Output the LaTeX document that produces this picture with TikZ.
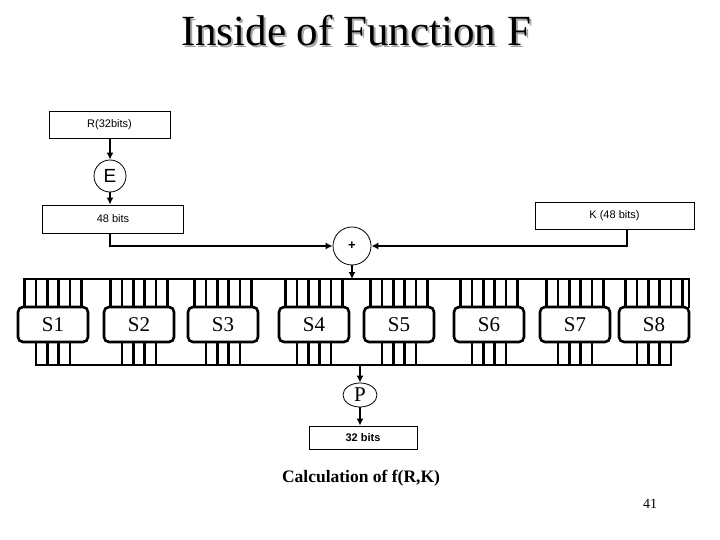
\documentclass[tikz,border=0pt]{standalone}
\usepackage{fontspec}
\setmainfont{Liberation Serif}
\newfontfamily\pix{Liberation Sans}
\usetikzlibrary{arrows.meta,shapes.geometric,calc}
\begin{document}
\begin{tikzpicture}[x=1pt,y=-1pt,
  tbox/.style={draw,line width=0.9pt,inner sep=0pt,font=\pix\fontsize{11}{13}\selectfont},
  sbox/.style={draw,line width=2.6pt,rounded corners=5pt,minimum width=70pt,minimum height=35pt,inner sep=0pt,font=\fontsize{21}{24}\selectfont},
  circ/.style={draw,circle,line width=0.8pt,inner sep=0pt},
  arr/.style={line width=2.2pt,-{Latex[length=7pt,width=7pt]}},
  thinarr/.style={line width=1.8pt,-{Latex[length=7pt,width=7pt]}},
  bus/.style={line width=2.8pt,line cap=rect}
]
\useasboundingbox (0,0) rectangle (720,540);

% title with shadow
\node[anchor=base,text=black!35,font=\fontsize{43}{48}\selectfont] (titleshadow) at (358,48) {Inside of Function F};
\node[anchor=base,font=\fontsize{43}{48}\selectfont] (title) at (356,46) {Inside of Function F};

% top part
\node[tbox,minimum width=121pt,minimum height=27pt] (R) at (109.5,124.5) {R(32bits)};
\node[circ,minimum size=32pt,font=\pix\fontsize{19}{22}\selectfont] (E) at (110,176) {E};
\node[tbox,minimum width=141pt,minimum height=28pt] (B48) at (113,219) {48 bits};
\node[tbox,minimum width=159pt,minimum height=27pt] (K) at (614.5,215.5) {K (48 bits)};
\node[circ,minimum size=38pt,font=\pix\bfseries\fontsize{13}{15}\selectfont] (plus) at (352,246) {+};

\draw[arr] (E.north |- R.south) -- (E.north);
\draw[arr] (E.south) -- (E.south |- B48.north);
\draw[arr] (E |- B48.south) |- (plus.west);
\coordinate (kc) at (627,229);
\draw[thinarr] (kc) |- (plus.east);

% bus lines
\coordinate (busTL) at (24.5,279);
\coordinate (busTR) at (689,279);
\coordinate (busBL) at (36,365);
\coordinate (busBR) at (671,365);
\draw[bus] (busTL) -- (busTR);
\draw[bus] (busBL) -- (busBR);
\draw[bus] (busTR) -- (689,307);

\draw[thinarr] (plus.south) -- (plus.south |- busTL);

% S boxes
\foreach \n/\c in {1/53,2/139,3/223,4/314,5/399,6/489,7/575,8/654} {
  \node[sbox] (S\n) at (\c,324.5) {S\n};
  \foreach \o in {-28.5,-17,-5.7,5.7,17,28.5}
    \draw[bus] ($(S\n.north)+(\o,0)$) coordinate (tmp) -- (tmp |- busTL);
  \foreach \o in {-17,-5.7,5.7,17}
    \draw[bus] ($(S\n.south)+(\o,0)$) coordinate (tmp) -- (tmp |- busBL);
}

% output
\node[draw,ellipse,line width=0.8pt,minimum width=34pt,minimum height=24pt,inner sep=0pt,font=\fontsize{21}{24}\selectfont] (P) at (360,395) {P};
\node[tbox,minimum width=108pt,minimum height=23pt,font=\pix\bfseries\fontsize{11}{13}\selectfont] (B32) at (363,437.5) {32 bits};
\draw[thinarr] (P.north |- busBL) -- (P.north);
\draw[thinarr] (P.south) -- (P.south |- B32.north);

\node[anchor=base,font=\bfseries\fontsize{17.5}{20}\selectfont] (calc) at (361,482) {Calculation of f(R,K)};
\node[anchor=base,font=\fontsize{14}{16}\selectfont] (pg) at (650,508) {41};
\end{tikzpicture}
\end{document}
